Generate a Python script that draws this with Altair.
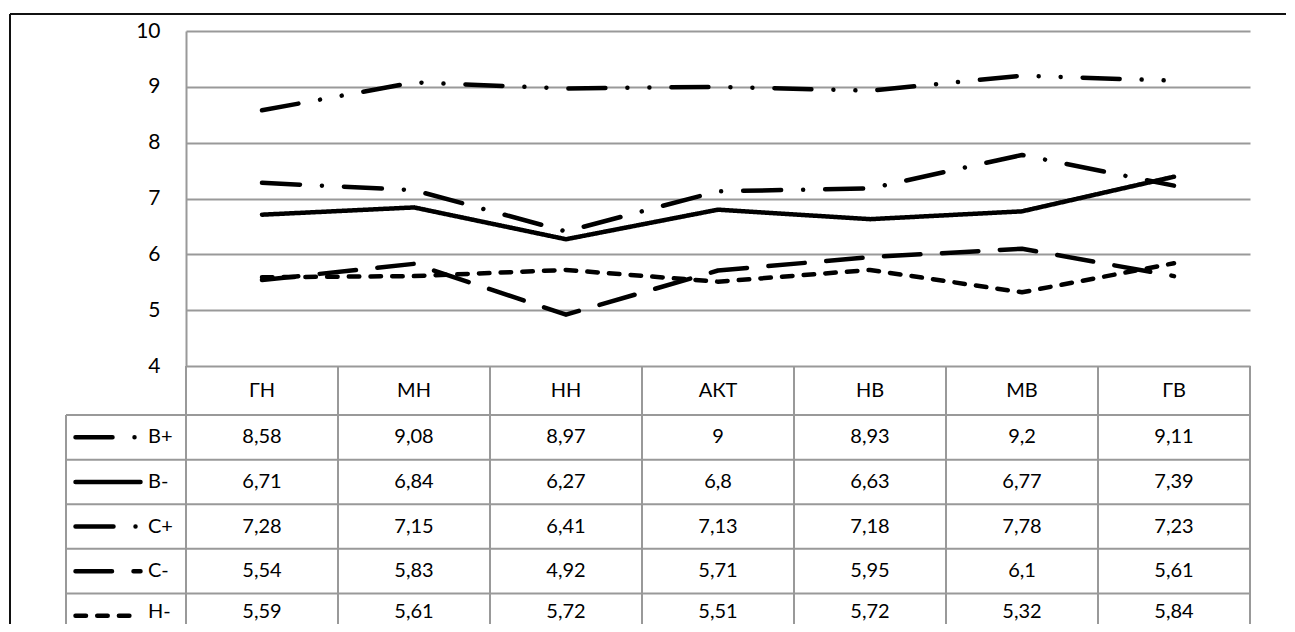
import altair as alt
import pandas as pd

categories = ["ГН", "МН", "НН", "АКТ", "НВ", "МВ", "ГВ"]
series = ["В+", "В-", "С+", "С-", "Н-"]
b_plus = [8.58, 9.08, 8.97, 9, 8.93, 9.2, 9.11]
b_minus = [6.71, 6.84, 6.27, 6.8, 6.63, 6.77, 7.39]
c_plus = [7.28, 7.15, 6.41, 7.13, 7.18, 7.78, 7.23]
c_minus = [5.54, 5.83, 4.92, 5.71, 5.95, 6.1, 5.61]
h_minus = [5.59, 5.61, 5.72, 5.51, 5.72, 5.32, 5.84]
y_ticks = [4, 5, 6, 7, 8, 9, 10]

series_values = [b_plus, b_minus, c_plus, c_minus, h_minus]
dashes = [[37, 22, 0.01, 22, 0.01, 22], [1, 0], [38, 22, 0.01, 22], [36.5, 21.5], [10.5, 11.2]]

FONT = "Lato"
FS = 20
W, H = 1064, 335
RH = 44.6
HEADER = 1.1
row_scale = alt.Scale(domain=[0, 6.1], range=[H, H + 6.1 * RH], nice=False, zero=False)
GRID = "#999999"


def fmt(v):
    return str(v).replace(".", ",")


rows = []
for si, (s, vals) in enumerate(zip(series, series_values)):
    for c, v in zip(categories, vals):
        rows.append({"series": s, "si": si, "cat": c, "value": v, "label": fmt(v),
                     "r": HEADER + si + 0.5})
df = pd.DataFrame(rows)
last = len(series) - 1
df_cat = pd.DataFrame({"cat": categories, "y0": 0.0, "y1": 6.6, "r": HEADER / 2})
df_ser = pd.DataFrame({"series": series, "si": list(range(len(series))),
                       "r": [HEADER + i + 0.5 for i in range(len(series))]})
df_bounds = pd.DataFrame({"b": [HEADER + i for i in range(len(series) + 1)]})
df_one = pd.DataFrame({"y0": [0.0], "y1": [6.6], "yl": [HEADER]})

xscale = alt.Scale(type="band", domain=categories, paddingInner=0, paddingOuter=0)
dash_enc = alt.StrokeDash("series:N", scale=alt.Scale(domain=series, range=dashes), legend=None)
xcat = alt.X("cat:N", sort=categories, scale=xscale, axis=None, bandPosition=0.5)
yrow = alt.Y("r:Q", scale=row_scale, axis=None)

lines = alt.Chart(df).mark_line(
    strokeWidth=4.5, strokeCap="round", strokeJoin="round", color="black"
).encode(
    x=xcat,
    y=alt.Y("value:Q", scale=alt.Scale(domain=[4, 10], nice=False, zero=False),
            axis=alt.Axis(values=y_ticks, grid=True, gridColor=GRID, gridWidth=2,
                          domainColor=GRID, domainWidth=2, ticks=False, labelPadding=26,
                          labelFont=FONT, labelFontSize=21, labelColor="black", title=None)),
    strokeDash=dash_enc,
    detail="series:N",
)

col_rules = alt.Chart(df_cat).mark_rule(color=GRID, strokeWidth=2).encode(
    x=alt.X("cat:N", sort=categories, scale=xscale, axis=None, bandPosition=0),
    y=alt.Y("y0:Q", scale=row_scale, axis=None),
    y2="y1:Q",
)

right_edge = alt.Chart(df_one).mark_rule(color=GRID, strokeWidth=2).encode(
    x=alt.value(W), y=alt.Y("y0:Q", scale=row_scale, axis=None), y2="y1:Q")

legend_edge = alt.Chart(df_one).mark_rule(color=GRID, strokeWidth=2).encode(
    x=alt.value(-120), y=alt.Y("yl:Q", scale=row_scale, axis=None), y2="y1:Q")

row_rules = alt.Chart(df_bounds).mark_rule(color=GRID, strokeWidth=2).encode(
    x=alt.value(-120), x2=alt.value(W), y=alt.Y("b:Q", scale=row_scale, axis=None))

header = alt.Chart(df_cat).mark_text(font=FONT, fontSize=FS, color="black", baseline="middle").encode(
    x=xcat, y=yrow, text="cat:N")

cells = alt.Chart(df[df.si < last]).mark_text(
    font=FONT, fontSize=FS, color="black", baseline="middle").encode(
    x=xcat, y=yrow, text="label:N")

# the last row sits at the very bottom edge of the page: lift its text a little
cells_last = alt.Chart(df[df.si == last]).mark_text(
    font=FONT, fontSize=FS, color="black", baseline="middle", dy=-4).encode(
    x=xcat, y=yrow, text="label:N")

leg_lines = alt.Chart(df_ser).mark_rule(strokeWidth=4.5, strokeCap="round", color="black").encode(
    x=alt.value(-110.5), x2=alt.value(-45.5), y=yrow, strokeDash=dash_enc)

leg_text = alt.Chart(df_ser[df_ser.si < last]).mark_text(
    font=FONT, fontSize=FS, color="black", align="left", baseline="middle").encode(
    x=alt.value(-38), y=yrow, text="series:N")

leg_text_last = alt.Chart(df_ser[df_ser.si == last]).mark_text(
    font=FONT, fontSize=FS, color="black", align="left", baseline="middle", dy=-4).encode(
    x=alt.value(-38), y=yrow, text="series:N")

border_top = alt.Chart(df_one).mark_rule(color="#111111", strokeWidth=2).encode(
    x=alt.value(-176), x2=alt.value(W + 60), y=alt.value(-17))
border_left = alt.Chart(df_one).mark_rule(color="#111111", strokeWidth=2).encode(
    x=alt.value(-176), y=alt.value(-17), y2=alt.value(H + 320))

chart = alt.layer(
    lines, col_rules, right_edge, legend_edge, row_rules, header, cells, cells_last,
    leg_lines, leg_text, leg_text_last, border_top, border_left
).resolve_scale(y="independent").properties(
    width=W, height=H,
    autosize=alt.AutoSizeParams(type="none"),
    padding={"left": 178, "top": 23, "right": 36, "bottom": 258},
).configure_view(stroke=None)

chart.save("out.html", embed_options={"renderer": "svg", "actions": False})
